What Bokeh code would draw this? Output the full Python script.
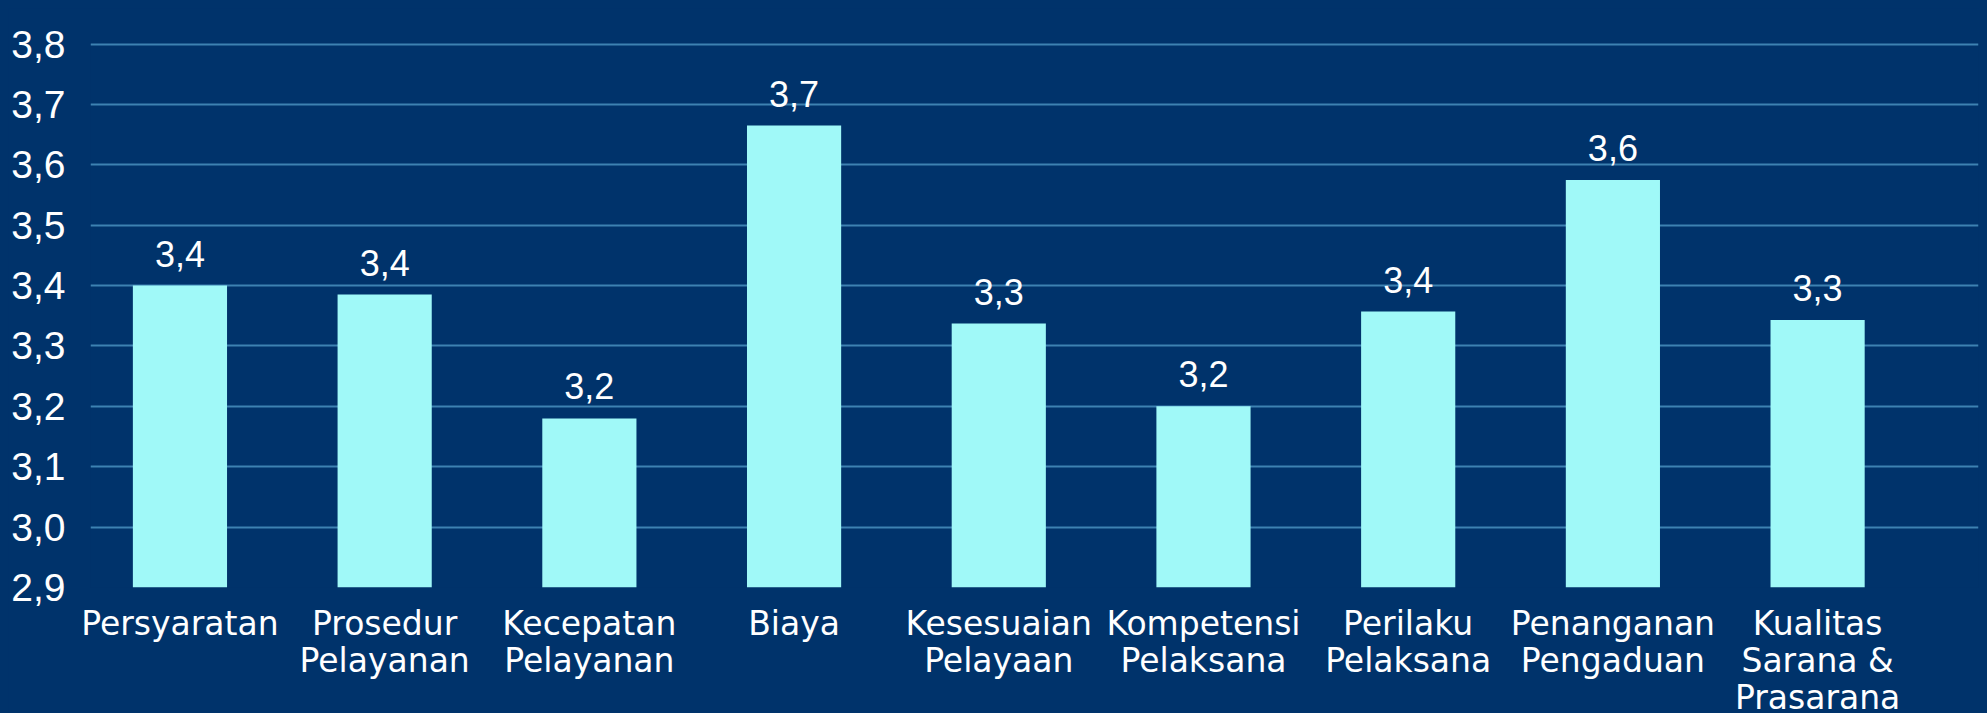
from bokeh.plotting import figure
from bokeh.models import FixedTicker, Range1d, ColumnDataSource
from bokeh.core.properties import value
from bokeh.embed import file_html
from bokeh.resources import INLINE

categories = ["Persyaratan", "Prosedur\nPelayanan", "Kecepatan\nPelayanan", "Biaya",
              "Kesesuaian\nPelayaan", "Kompetensi\nPelaksana", "Perilaku\nPelaksana",
              "Penanganan\nPengaduan", "Kualitas\nSarana &\nPrasarana"]
scores = [3.40, 3.385, 3.18, 3.665, 3.337, 3.20, 3.357, 3.575, 3.343]
y_ticks = [2.9, 3.0, 3.1, 3.2, 3.3, 3.4, 3.5, 3.6, 3.7, 3.8]

BG = "#00336b"
BAR = "#a0f9f8"
GRID = "#3d82b2"

idx = list(range(len(categories)))
labels = [f"{v:.1f}".replace(".", ",") for v in scores]
src = ColumnDataSource(dict(x=idx, top=scores, lab=labels))

p = figure(width=1971, height=697, output_backend="svg", toolbar_location=None,
           x_range=Range1d(-0.437, 8.786), y_range=Range1d(2.9, 3.8025),
           frame_width=1888, frame_height=545,
           min_border_left=80, min_border_right=3, min_border_top=34, min_border_bottom=118,
           background_fill_color=BG, border_fill_color=BG, outline_line_color=None)

p.vbar(x="x", top="top", bottom=2.9, width=0.46, source=src, fill_color=BAR, line_color=None)
p.text(x="x", y="top", text="lab", source=src, text_align="center", text_baseline="alphabetic",
       y_offset=-32, text_color="white", text_font=value("Liberation Sans"), text_font_size="36px")

p.xgrid.grid_line_color = None
p.ygrid.grid_line_color = GRID
p.ygrid.grid_line_width = 2
p.ygrid.ticker = FixedTicker(ticks=y_ticks)

p.yaxis.ticker = FixedTicker(ticks=y_ticks)
p.yaxis.major_label_overrides = {t: f"{t:.1f}".replace(".", ",") for t in y_ticks}
p.yaxis.major_label_text_font = "Liberation Sans"
p.yaxis.major_label_text_font_size = "39px"
p.yaxis.major_label_text_color = "white"
p.yaxis.major_label_standoff = 19
p.yaxis.axis_line_color = None
p.yaxis.major_tick_line_color = None
p.yaxis.minor_tick_line_color = None

p.xaxis.ticker = FixedTicker(ticks=idx)
p.xaxis.major_label_overrides = {i: c for i, c in zip(idx, categories)}
p.xaxis.major_label_text_font = "DejaVu Sans"
p.xaxis.major_label_text_font_size = "33px"
p.xaxis.major_label_text_line_height = 0.95
p.xaxis.major_label_text_color = "white"
p.xaxis.major_label_standoff = 10
p.xaxis.axis_line_color = None
p.xaxis.major_tick_line_color = None
p.xaxis.minor_tick_line_color = None

html = file_html(p, INLINE)
html = html.replace("</head>", f"<style>html{{background:{BG};}} body{{background:{BG};margin:8px;}}</style></head>", 1)
open("out.html", "w").write(html)
